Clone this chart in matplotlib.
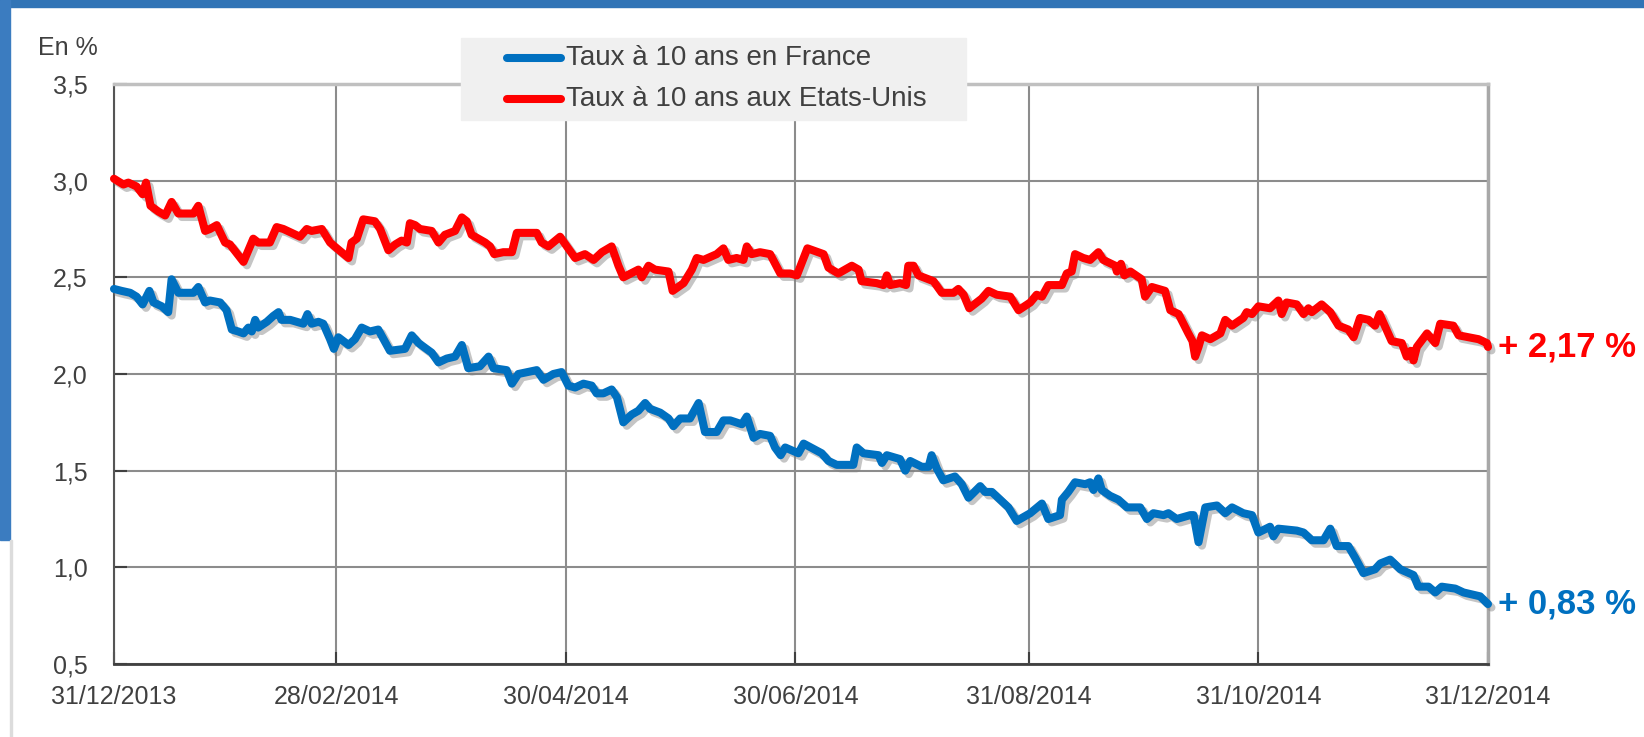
import pandas as pd
import matplotlib
matplotlib.use("Agg")
import matplotlib.pyplot as plt
import matplotlib.dates as mdates
import matplotlib.patheffects as pe
from matplotlib.patches import Rectangle
from matplotlib.lines import Line2D
from matplotlib.ticker import FuncFormatter

# jours écoulés depuis le 31/12/2013
jours_us = [0, 2.5, 3.8, 6.0, 7.6, 8.5, 9.7, 11.8, 13.6, 15.3, 17.1, 18.9, 21.1, 22.4, 24.2, 25.5, 27.3,
            29.5, 30.8, 34.4, 37.0, 38.3, 41.4, 43.2, 45.0, 47.2, 49.4, 51.2, 52.5, 55.2, 57.4, 59.2,
            62.3, 63.1, 64.5, 66.2, 69.3, 70.7, 72.9, 74.7, 76.4, 77.8, 78.6, 80.0, 81.3, 84.4, 86.2,
            87.9, 90.6, 92.4, 93.7, 95.0, 98.6, 99.9, 101.0, 103.4, 105.7, 107.0, 112.3, 113.6, 115.4,
            118.5, 120.3, 122.5, 125.1, 127.4, 129.6, 132.2, 134.0, 135.3, 139.3, 140.2, 142.0, 143.7,
            147.3, 148.4, 151.3, 153.5, 154.8, 156.6, 160.1, 161.9, 163.2, 165.4, 167.2, 168.1, 169.4,
            171.6, 174.3, 177.0, 179.6, 181.4, 184.2, 188.5, 189.8, 192.4, 196.0, 197.8, 198.6, 202.6,
            204.4, 205.3, 206.2, 208.8, 210.4, 211.0, 212.4, 213.7, 217.7, 219.9, 223.0, 224.3, 225.7,
            227.2, 230.5, 232.3, 234.5, 238.1, 240.3, 243.4, 245.1, 246.5, 248.2, 251.8, 253.1, 254.4,
            255.3, 257.5, 259.3, 261.5, 262.8, 266.0, 266.4, 267.5, 268.4, 270.0, 273.0, 273.9, 275.7,
            279.2, 280.6, 282.8, 285.4, 286.5, 287.2, 288.1, 289.0, 291.2, 293.9, 295.2, 297.0, 300.0,
            300.9, 302.3, 304.0, 307.1, 309.3, 310.2, 311.5, 314.2, 316.0, 317.3, 318.2, 320.8, 323.1,
            325.3, 327.9, 329.3, 331.0, 333.3, 335.0, 336.2, 339.4, 342.1, 343.4, 344.5, 345.2, 346.1,
            348.8, 351.0, 352.3, 355.8, 357.2, 362.5, 364.7, 365.0]
taux_us = [3.01, 2.98, 2.99, 2.97, 2.93, 2.99, 2.87, 2.84, 2.82, 2.89, 2.83, 2.83, 2.83, 2.87, 2.74, 2.75, 2.77,
           2.68, 2.67, 2.58, 2.70, 2.68, 2.68, 2.76, 2.75, 2.73, 2.71, 2.75, 2.74, 2.75, 2.68, 2.65,
           2.60, 2.68, 2.70, 2.80, 2.79, 2.75, 2.64, 2.67, 2.69, 2.68, 2.78, 2.77, 2.75, 2.74, 2.68,
           2.72, 2.74, 2.81, 2.79, 2.72, 2.68, 2.66, 2.62, 2.63, 2.63, 2.73, 2.73, 2.68, 2.66,
           2.71, 2.66, 2.60, 2.62, 2.59, 2.63, 2.66, 2.56, 2.50, 2.54, 2.50, 2.56, 2.54,
           2.53, 2.43, 2.47, 2.54, 2.60, 2.59, 2.62, 2.65, 2.59, 2.60, 2.59, 2.66, 2.62,
           2.63, 2.62, 2.52, 2.52, 2.51, 2.65, 2.62, 2.55, 2.52, 2.56, 2.54, 2.48, 2.47,
           2.46, 2.51, 2.46, 2.47, 2.46, 2.56, 2.56, 2.51, 2.48, 2.42, 2.42, 2.44, 2.41,
           2.34, 2.39, 2.43, 2.41, 2.40, 2.33, 2.37, 2.41, 2.40, 2.46, 2.46, 2.52, 2.53,
           2.62, 2.60, 2.59, 2.63, 2.59, 2.56, 2.53, 2.57, 2.51, 2.53, 2.49, 2.40, 2.45,
           2.43, 2.33, 2.31, 2.21, 2.17, 2.09, 2.14, 2.20, 2.18, 2.21, 2.28, 2.25, 2.29,
           2.32, 2.31, 2.35, 2.34, 2.38, 2.31, 2.37, 2.36, 2.31, 2.34, 2.32, 2.36, 2.32,
           2.25, 2.23, 2.19, 2.29, 2.28, 2.25, 2.31, 2.17, 2.16, 2.09, 2.12, 2.07, 2.14,
           2.21, 2.16, 2.26, 2.25, 2.20, 2.18, 2.16, 2.14]

jours_fr = [0, 2.0, 4.3, 6.0, 7.6, 9.4, 10.5, 12.7, 14.4, 15.3, 17.1, 18.9, 21.1, 22.4, 24.2, 25.5, 28.2,
            29.9, 31.3, 33.0, 34.4, 35.7, 36.6, 37.5, 38.3, 40.6, 42.3, 43.7, 44.5, 46.8, 48.5, 50.3,
            51.4, 52.5, 54.3, 55.6, 57.4, 58.4, 59.6, 62.3, 64.0, 65.8, 68.0, 70.2, 71.6, 73.3, 77.3,
            79.1, 80.9, 84.4, 86.2, 88.4, 90.6, 92.4, 94.1, 97.2, 99.5, 100.8, 104.3, 105.7, 107.4,
            112.3, 114.1, 116.7, 118.9, 120.7, 122.5, 124.7, 126.9, 128.2, 130.0, 132.2, 133.6, 135.3,
            137.5, 139.3, 141.1, 142.4, 145.1, 147.3, 148.6, 150.4, 153.0, 155.3, 157.0, 160.1, 161.9,
            163.7, 166.8, 168.1, 169.9, 171.6, 174.3, 175.6, 177.1, 178.3, 181.8, 183.2, 188.0, 189.8,
            192.0, 196.4, 197.3, 199.1, 203.1, 204.0, 205.3, 208.8, 210.2, 211.5, 214.6, 216.4, 217.2,
            218.6, 220.3, 223.4, 225.2, 227.0, 230.1, 231.4, 233.2, 235.4, 237.6, 239.8, 243.4, 246.5,
            248.2, 251.3, 251.8, 253.5, 255.3, 258.0, 259.3, 260.2, 261.5, 262.4, 264.6, 266.8, 269.1,
            272.6, 274.4, 276.1, 278.8, 280.1, 282.3, 285.9, 286.8, 288.1, 289.9, 293.0, 295.2, 297.0,
            300.0, 302.3, 304.0, 307.1, 308.0, 309.3, 314.2, 316.0, 318.2, 321.3, 323.1, 324.8, 327.9,
            329.7, 331.9, 335.0, 336.4, 339.0, 341.7, 345.2, 346.5, 349.2, 351.0, 352.7, 356.3, 358.5,
            362.9, 365.0]
taux_fr = [2.44, 2.43, 2.42, 2.40, 2.36, 2.43, 2.37, 2.35, 2.32, 2.49, 2.42, 2.42, 2.42, 2.45, 2.37, 2.38, 2.37,
           2.33, 2.23, 2.22, 2.21, 2.24, 2.22, 2.28, 2.24, 2.27, 2.30, 2.32, 2.28, 2.28, 2.27, 2.26,
           2.31, 2.26, 2.27, 2.26, 2.18, 2.13, 2.19, 2.15, 2.18, 2.24, 2.22, 2.23, 2.18, 2.12, 2.13,
           2.20, 2.16, 2.11, 2.06, 2.08, 2.09, 2.15, 2.03, 2.04, 2.09, 2.03, 2.02, 1.95, 2.00,
           2.02, 1.97, 2.00, 2.01, 1.94, 1.93, 1.95, 1.94, 1.90, 1.90, 1.92, 1.88, 1.75,
           1.79, 1.81, 1.85, 1.82, 1.80, 1.77, 1.73, 1.77, 1.77, 1.85, 1.70, 1.70, 1.76,
           1.76, 1.74, 1.78, 1.67, 1.69, 1.68, 1.62, 1.58, 1.62, 1.59, 1.64, 1.59, 1.55,
           1.53, 1.53, 1.62, 1.59, 1.58, 1.54, 1.58, 1.56, 1.50, 1.55, 1.52, 1.52, 1.58,
           1.51, 1.45, 1.47, 1.43, 1.36, 1.42, 1.39, 1.39, 1.35, 1.31, 1.24, 1.28, 1.33,
           1.25, 1.27, 1.35, 1.39, 1.44, 1.43, 1.44, 1.40, 1.46, 1.40, 1.37, 1.35, 1.31,
           1.31, 1.25, 1.28, 1.27, 1.28, 1.25, 1.27, 1.27, 1.13, 1.31, 1.32, 1.28, 1.31,
           1.28, 1.27, 1.18, 1.21, 1.16, 1.20, 1.19, 1.18, 1.14, 1.14, 1.20, 1.11, 1.11,
           1.05, 0.97, 0.99, 1.02, 1.04, 0.99, 0.96, 0.90, 0.90, 0.87, 0.90, 0.89, 0.87,
           0.85, 0.81]

dates_ticks = ["2013-12-31", "2014-02-28", "2014-04-30", "2014-06-30", "2014-08-31", "2014-10-31", "2014-12-31"]
libelle_fr = "Taux à 10 ans en France"
libelle_us = "Taux à 10 ans aux Etats-Unis"
fin_fr = "+ 0,83 %"
fin_us = "+ 2,17 %"

BLEU = "#0070c0"
ROUGE = "#ff0000"
GRIS = "#404040"
W, H = 1644, 737
TAILLE = 18
EPAIS = 5.8

plt.rcParams['font.family'] = ['Liberation Sans', 'DejaVu Sans']

debut = pd.Timestamp("2013-12-31")
x_us = debut + pd.to_timedelta(jours_us, unit="D")
x_fr = debut + pd.to_timedelta(jours_fr, unit="D")

fig = plt.figure(figsize=(W / 100, H / 100), dpi=100)
ax = fig.add_axes([114 / W, 1 - 664 / H, (1488 - 114) / W, (664 - 84) / H])

# fond bleu de la diapositive
fig.patches.append(Rectangle((0, 1 - 7 / H), 1, 7 / H, transform=fig.transFigure, color="#3174b6", zorder=0))
fig.patches.append(Rectangle((0, 1 - 540 / H), 10 / W, 540 / H, transform=fig.transFigure, color="#3b7cc0", zorder=0))
fig.patches.append(Rectangle((10 / W, 0), 1.5 / W, 1 - 540 / H, transform=fig.transFigure, color="#dcdcdc", zorder=0))

ombre = [pe.SimpleLineShadow(offset=(2.5, -2.5), shadow_color="gray", alpha=0.45), pe.Normal()]
ax.plot(x_us, taux_us, color=ROUGE, lw=EPAIS, solid_joinstyle="round", solid_capstyle="round",
        path_effects=ombre, clip_on=False, zorder=4)
ax.plot(x_fr, taux_fr, color=BLEU, lw=EPAIS, solid_joinstyle="round", solid_capstyle="round",
        path_effects=ombre, clip_on=False, zorder=4)

ax.set_xlim(pd.Timestamp("2013-12-31"), pd.Timestamp("2014-12-31"))
ax.set_ylim(0.5, 3.5)
ax.set_yticks([0.5, 1.0, 1.5, 2.0, 2.5, 3.0, 3.5])
ax.yaxis.set_major_formatter(FuncFormatter(lambda v, p: f"{v:.1f}".replace(".", ",")))
ax.set_xticks(pd.to_datetime(dates_ticks))
ax.xaxis.set_major_formatter(mdates.DateFormatter("%d/%m/%Y"))

ax.grid(True, color="#8c8c8c", lw=1.5)
ax.set_axisbelow(True)
ax.tick_params(axis="y", direction="in", length=9, width=1.5, color=GRIS, labelsize=TAILLE, labelcolor=GRIS, pad=19)
ax.tick_params(axis="x", direction="in", length=9, width=1.5, color=GRIS, labelsize=TAILLE, labelcolor=GRIS, pad=15)
ax.spines["left"].set_color("#555555")
ax.spines["left"].set_linewidth(1.5)
ax.spines["bottom"].set_color(GRIS)
ax.spines["bottom"].set_linewidth(2)
ax.spines["top"].set_color("#c0c0c0")
ax.spines["top"].set_linewidth(2.5)
ax.spines["right"].set_color("#a8a8a8")
ax.spines["right"].set_linewidth(2.5)

fig.text(38 / W, 1 - 48 / H, "En %", fontsize=TAILLE, color=GRIS, va="center", ha="left")

# valeurs de fin de période
ax.annotate(fin_us, (x_us[-1], taux_us[-1]), xytext=(7, 0), textcoords="offset points",
            color=ROUGE, fontsize=25, fontweight="bold", va="center", ha="left")
ax.annotate(fin_fr, (x_fr[-1], taux_fr[-1]), xytext=(7, 0), textcoords="offset points",
            color=BLEU, fontsize=25, fontweight="bold", va="center", ha="left")

# légende
fig.patches.append(Rectangle((461 / W, 1 - 120 / H), 505 / W, 82 / H, transform=fig.transFigure,
                             color="#f0f0f0", zorder=5))
for yy, coul, lib in [(58, BLEU, libelle_fr), (99, ROUGE, libelle_us)]:
    fig.lines.append(Line2D([507 / W, 561 / W], [1 - yy / H] * 2, transform=fig.transFigure,
                            color=coul, lw=EPAIS, solid_capstyle="round", zorder=6))
    fig.text(566 / W, 1 - yy / H, lib, fontsize=20, color=GRIS, va="center", ha="left", zorder=6)

fig.savefig("out.png", dpi=100)
